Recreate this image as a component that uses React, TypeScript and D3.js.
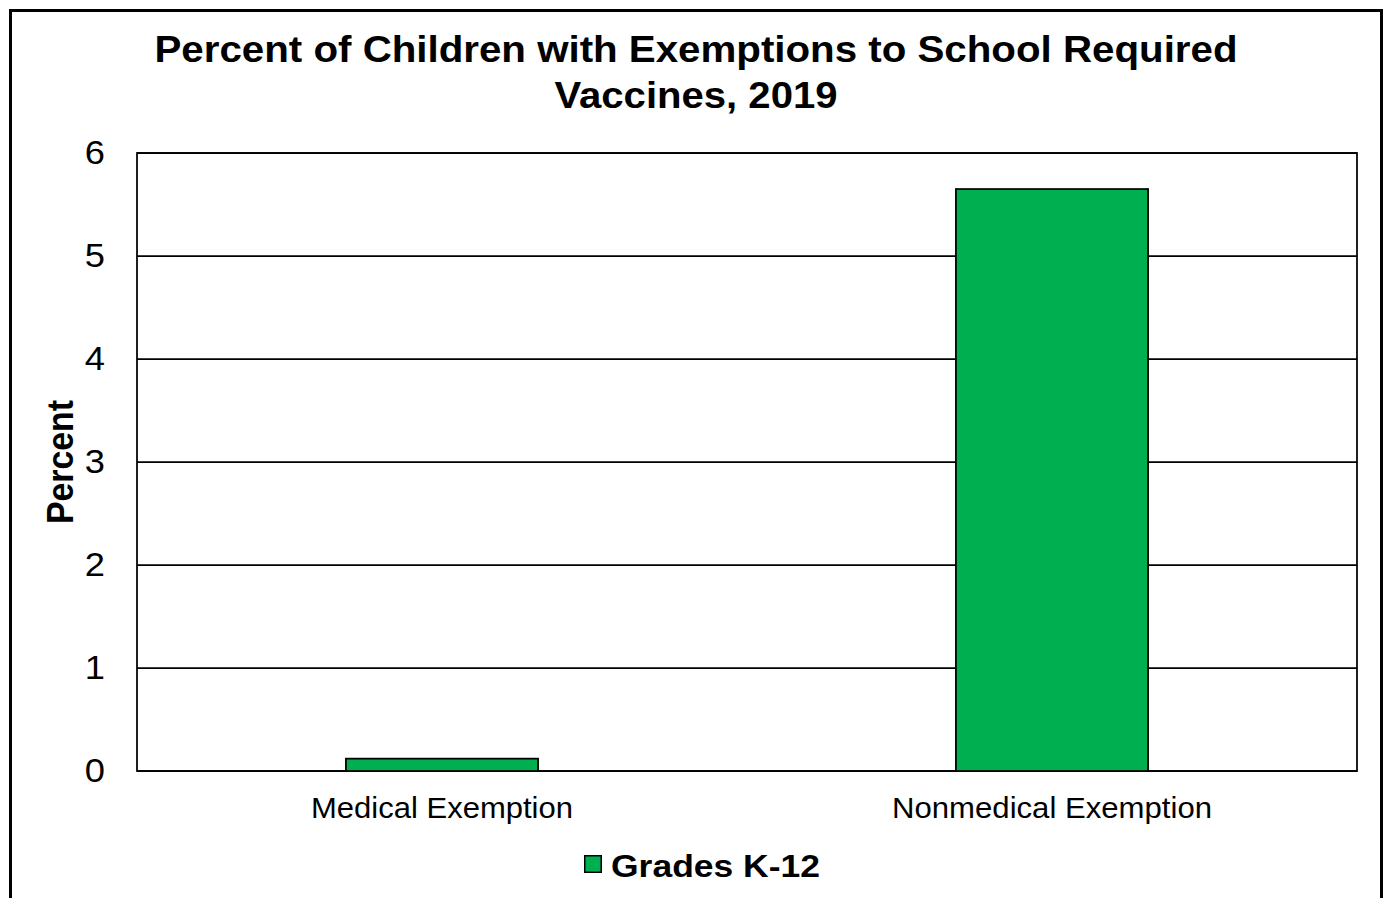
import * as d3 from "d3";
import { useEffect, useRef } from "react";

const categories = ["Medical Exemption", "Nonmedical Exemption"];
const gradesK12 = [0.12, 5.65];
const yTicks = [0, 1, 2, 3, 4, 5, 6];
const seriesName = "Grades K-12";
const titleLines = ["Percent of Children with Exemptions to School Required", "Vaccines, 2019"];

const W = 1383;
const H = 898;
const green = "#00b050";
const font = "'Liberation Sans', Arial, sans-serif";

// the source image is stretched horizontally a bit, so text gets fixed widths
const titleWidths = [1083, 283];
const catWidths = [262, 320];

export default function App() {
  const ref = useRef<SVGSVGElement | null>(null);

  useEffect(() => {
    if (!ref.current) return;
    const svg = d3.select(ref.current);
    svg.selectAll("*").remove();

    const plot = { left: 137, right: 1357, top: 153, bottom: 771 };

    const x = d3.scaleBand<string>().domain(categories).range([plot.left, plot.right]).paddingInner(0.685).paddingOuter(0.3425);
    const y = d3.scaleLinear().domain([0, 6]).range([plot.bottom, plot.top]);

    svg.append("rect").attr("width", W).attr("height", H).attr("fill", "#fff");

    // outer chart frame (bottom edge is cut off by the page)
    svg.append("rect")
      .attr("x", 10.5).attr("y", 10.5)
      .attr("width", 1371).attr("height", H + 20)
      .attr("fill", "none").attr("stroke", "#000").attr("stroke-width", 3);

    // title
    titleLines.forEach((t, i) => {
      svg.append("text")
        .attr("x", 696).attr("y", 62 + i * 46)
        .attr("text-anchor", "middle")
        .attr("textLength", titleWidths[i]).attr("lengthAdjust", "spacingAndGlyphs")
        .style("font-family", font).style("font-weight", "bold").style("font-size", "36px")
        .text(t);
    });

    // gridlines
    svg.append("g")
      .selectAll("line")
      .data(yTicks)
      .join("line")
      .attr("x1", plot.left).attr("x2", plot.right)
      .attr("y1", (d) => y(d)).attr("y2", (d) => y(d))
      .attr("stroke", "#000").attr("stroke-width", 1.75);

    // plot frame
    svg.append("rect")
      .attr("x", plot.left).attr("y", plot.top)
      .attr("width", plot.right - plot.left).attr("height", plot.bottom - plot.top)
      .attr("fill", "none").attr("stroke", "#000").attr("stroke-width", 1.75);

    // bars
    svg.append("g")
      .selectAll("rect")
      .data(categories)
      .join("rect")
      .attr("x", (d) => x(d) ?? 0)
      .attr("width", x.bandwidth())
      .attr("y", (_, i) => y(gradesK12[i]))
      .attr("height", (_, i) => y(0) - y(gradesK12[i]))
      .attr("fill", green).attr("stroke", "#000").attr("stroke-width", 1.75);

    // y tick labels
    svg.append("g")
      .selectAll("text")
      .data(yTicks)
      .join("text")
      .attr("transform", (d) => `translate(105,${y(d) + 11}) scale(1.1,1)`)
      .attr("text-anchor", "end")
      .style("font-family", font).style("font-size", "33px")
      .text((d) => d3.format("d")(d));

    // x labels
    svg.append("g")
      .selectAll("text")
      .data(categories)
      .join("text")
      .attr("x", (d) => (x(d) ?? 0) + x.bandwidth() / 2).attr("y", 818)
      .attr("text-anchor", "middle")
      .attr("textLength", (_, i) => catWidths[i]).attr("lengthAdjust", "spacingAndGlyphs")
      .style("font-family", font).style("font-size", "29px")
      .text((d) => d);

    // y axis title
    svg.append("text")
      .attr("transform", `translate(73,${(plot.top + plot.bottom) / 2}) scale(1.1,1) rotate(-90)`)
      .attr("text-anchor", "middle")
      .attr("textLength", 124).attr("lengthAdjust", "spacingAndGlyphs")
      .style("font-family", font).style("font-weight", "bold").style("font-size", "33px")
      .text("Percent");

    // legend
    const leg = svg.append("g").attr("transform", "translate(584,855)");
    leg.append("rect").attr("x", 0.75).attr("y", 0.75).attr("width", 16.5).attr("height", 16.5)
      .attr("fill", green).attr("stroke", "#000").attr("stroke-width", 1.5);
    leg.append("text").attr("x", 27).attr("y", 22)
      .attr("textLength", 209).attr("lengthAdjust", "spacingAndGlyphs")
      .style("font-family", font).style("font-weight", "bold").style("font-size", "32px")
      .text(seriesName);
  }, []);

  return (
    <svg
      ref={ref}
      width={W}
      height={H}
      style={{ position: "absolute", left: 0, top: 0, display: "block" }}
      role="img"
      aria-label="Percent of children with exemptions to school required vaccines, 2019"
    />
  );
}
